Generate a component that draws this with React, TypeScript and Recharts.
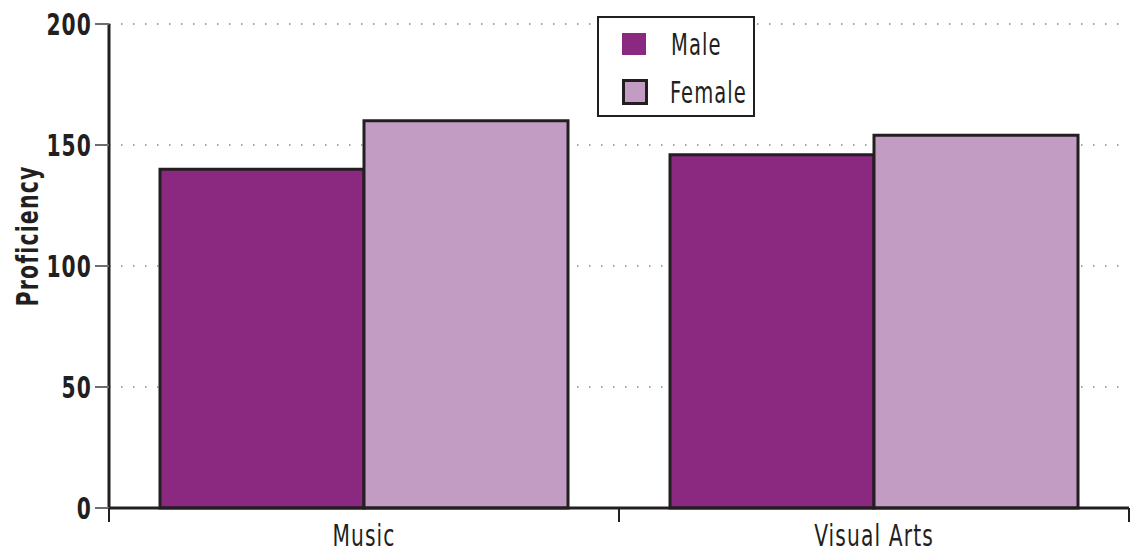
import React from 'react';
import { BarChart, Bar, XAxis, YAxis, CartesianGrid } from 'recharts';

const categories = ['Music', 'Visual Arts'];
const maleValues = [140, 146];
const femaleValues = [160, 154];
const yTicks = [0, 50, 100, 150, 200];
const seriesNames = ['Male', 'Female'];
const seriesColors = ['#8B2981', '#C29CC3'];

const FONT = '"DejaVu Sans Condensed", "DejaVu Sans", sans-serif';
const DARK = '#231f20';
const SQUEEZE = 0.75;

const data = categories.map((c, i) => ({ category: c, Male: maleValues[i], Female: femaleValues[i] }));

const CatTick = (props: any) => {
  const { x, y, payload, index, visibleTicksCount } = props;
  const half = Number(payload && payload.offset) || 0;
  const isLast = index === (visibleTicksCount ?? categories.length) - 1;
  return (
    <g>
      {half > 0 && <line x1={x - half} x2={x - half} y1={y} y2={y + 14} stroke={DARK} strokeWidth={2} />}
      {half > 0 && isLast && <line x1={x + half} x2={x + half} y1={y} y2={y + 14} stroke={DARK} strokeWidth={2} />}
      <g transform={`translate(${x},${y + 38}) scale(${SQUEEZE},1)`}>
        <text x={0} y={0} textAnchor="middle" fontFamily={FONT} fontSize={30} fill={DARK} letterSpacing={1.5}>
          {payload.value}
        </text>
      </g>
    </g>
  );
};

const YTick = (props: any) => {
  const { x, y, payload } = props;
  return (
    <g transform={`translate(${x},${y + 11}) scale(${SQUEEZE},1)`}>
      <text x={0} y={0} textAnchor="end" fontFamily={FONT} fontSize={30} fontWeight="bold" fill={DARK} letterSpacing={1.5}>
        {payload.value}
      </text>
    </g>
  );
};

const YLabel = (props: any) => {
  const { viewBox } = props;
  const cy = viewBox.y + viewBox.height / 2 - 30;
  return (
    <g transform={`translate(28,${cy}) rotate(-90) scale(0.76,1)`}>
      <text x={0} y={0} dy={10} textAnchor="middle" fontFamily={FONT} fontSize={30} fontWeight="bold" fill={DARK} letterSpacing={1.5}>
        Proficiency
      </text>
    </g>
  );
};

export default function App() {
  return (
    <div style={{ position: 'absolute', left: 0, top: 0, width: 1131, height: 555, background: '#fff' }}>
      <BarChart
        width={1131}
        height={555}
        data={data}
        margin={{ top: 24, right: 2, left: 0, bottom: 0 }}
        barCategoryGap="10%"
        barGap={0}
      >
        <CartesianGrid vertical={false} stroke="#8a8a8a" strokeDasharray="1.5 10.5" strokeWidth={1.5} />
        <XAxis
          dataKey="category"
          interval={0}
          height={47}
          tickSize={0}
          tickMargin={0}
          axisLine={{ stroke: DARK, strokeWidth: 3 }}
          tickLine={false}
          tick={<CatTick />}
        />
        <YAxis
          width={109}
          domain={[0, 200]}
          ticks={yTicks}
          tickSize={14}
          tickMargin={3}
          axisLine={{ stroke: DARK, strokeWidth: 3 }}
          tickLine={{ stroke: '#6d6e71', strokeWidth: 2 }}
          tick={<YTick />}
          label={<YLabel />}
        />
        <Bar dataKey="Male" fill={seriesColors[0]} stroke={DARK} strokeWidth={3} isAnimationActive={false} />
        <Bar dataKey="Female" fill={seriesColors[1]} stroke={DARK} strokeWidth={3} isAnimationActive={false} />
      </BarChart>
      <div
        style={{
          position: 'absolute',
          left: 597,
          top: 16,
          width: 154,
          height: 97,
          border: `2.5px solid ${DARK}`,
          background: '#fff',
          fontFamily: FONT,
        }}
      >
        {seriesNames.map((name, i) => (
          <div
            key={name}
            style={{ position: 'absolute', left: 23, top: 13 + i * 48, display: 'flex', alignItems: 'center', height: 26 }}
          >
            <div
              style={{
                width: i === 0 ? 24 : 20,
                height: i === 0 ? 22 : 20,
                background: seriesColors[i],
                border: i === 0 ? 'none' : `3px solid ${DARK}`,
                marginRight: i === 0 ? 25 : 22,
                flexShrink: 0,
              }}
            />
            <span
              style={{
                fontSize: 31,
                color: DARK,
                letterSpacing: 1.5,
                lineHeight: '26px',
                display: 'inline-block',
                transform: 'scaleX(0.7)',
                transformOrigin: 'left center',
                whiteSpace: 'nowrap',
              }}
            >
              {name}
            </span>
          </div>
        ))}
      </div>
    </div>
  );
}
